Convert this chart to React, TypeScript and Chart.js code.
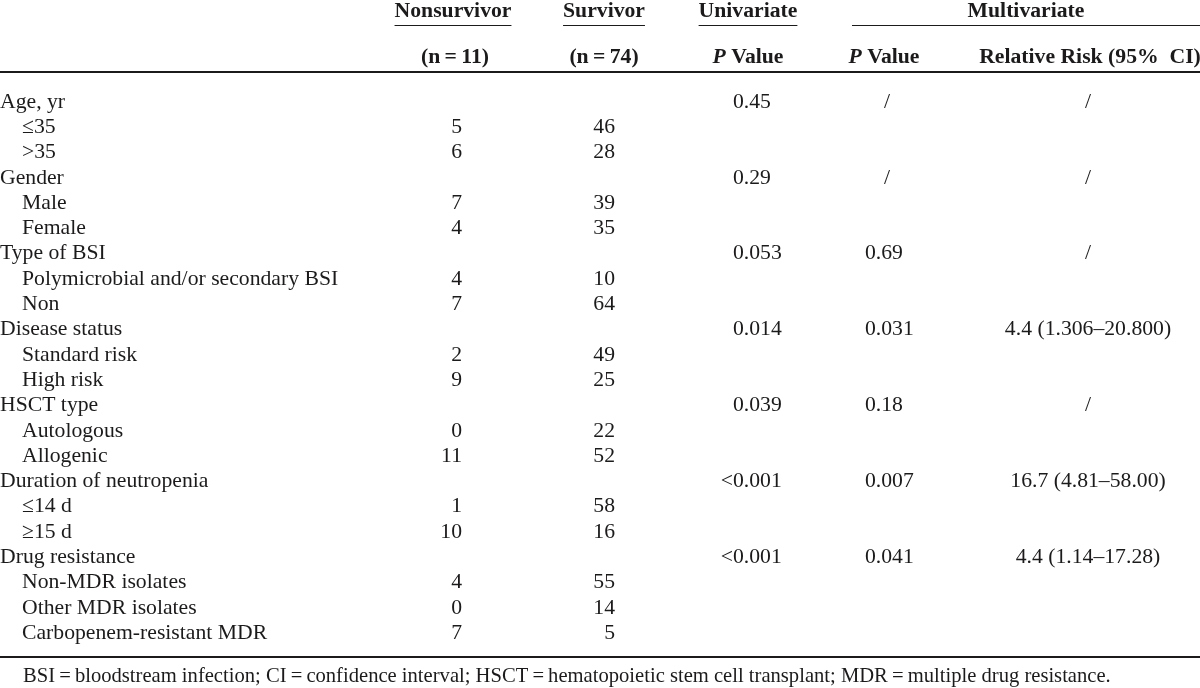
import { useEffect, useRef } from "react";
import { Chart, registerables } from "chart.js";

Chart.register(...registerables);

// ---------- data ----------
const rowLabels = [
  "Age, yr", "≤35", ">35",
  "Gender", "Male", "Female",
  "Type of BSI", "Polymicrobial and/or secondary BSI", "Non",
  "Disease status", "Standard risk", "High risk",
  "HSCT type", "Autologous", "Allogenic",
  "Duration of neutropenia", "≤14 d", "≥15 d",
  "Drug resistance", "Non-MDR isolates", "Other MDR isolates", "Carbopenem-resistant MDR",
];
const rowLevels = [0, 1, 1, 0, 1, 1, 0, 1, 1, 0, 1, 1, 0, 1, 1, 0, 1, 1, 0, 1, 1, 1];
const nonsurvivor = ["", "5", "6", "", "7", "4", "", "4", "7", "", "2", "9", "", "0", "11", "", "1", "10", "", "4", "0", "7"];
const survivor = ["", "46", "28", "", "39", "35", "", "10", "64", "", "49", "25", "", "22", "52", "", "58", "16", "", "55", "14", "5"];
const univariateP = ["0.45", "", "", "0.29", "", "", "0.053", "", "", "0.014", "", "", "0.039", "", "", "<0.001", "", "", "<0.001", "", "", ""];
const multivariateP = ["/", "", "", "/", "", "", "0.69", "", "", "0.031", "", "", "0.18", "", "", "0.007", "", "", "0.041", "", "", ""];
const relativeRisk = ["/", "", "", "/", "", "", "/", "", "", "4.4 (1.306–20.800)", "", "", "/", "", "", "16.7 (4.81–58.00)", "", "", "4.4 (1.14–17.28)", "", "", ""];

const groupHeaders = ["Nonsurvivor", "Survivor", "Univariate", "Multivariate"];
const subHeaders = ["(n\u2009=\u200911)", "(n\u2009=\u200974)", "P| Value", "P| Value", "Relative Risk (95%\u00a0 CI)"];
const footnote =
  "BSI\u2009=\u2009bloodstream infection; CI\u2009=\u2009confidence interval; HSCT\u2009=\u2009hematopoietic stem cell transplant; MDR\u2009=\u2009multiple drug resistance.";

// ---------- layout (pixels / row units) ----------
const W = 1200;
const H = 688;
const ROW0_PX = 102;
const ROW_H = 25.3;
const FONT = "'Liberation Serif', 'Times New Roman', serif";
const SIZE = 21.7;
const FOOT_SIZE = 20.6;

type ColCfg = { x: number; align: "left" | "right" | "center" | "decimal"; slashX?: number };
const cols: ColCfg[] = [
  { x: 462, align: "right" }, // nonsurvivor
  { x: 615, align: "right" }, // survivor
  { x: 733, align: "decimal" }, // univariate (start of leading 0)
  { x: 865, align: "decimal", slashX: 887 }, // multivariate P
  { x: 1088, align: "center" }, // relative risk
];
const columns = [nonsurvivor, survivor, univariateP, multivariateP, relativeRisk];

const groupHeaderX = [453, 604, 748, 1026];
const subHeaderX = [455, 604, 748, 884, 1090];
const pxToRow = (px: number) => (px - ROW0_PX) / ROW_H;

function drawDecimal(ctx: CanvasRenderingContext2D, text: string, startX: number, y: number) {
  const dotX = startX + ctx.measureText("0").width;
  const i = text.indexOf(".");
  if (i < 0) {
    ctx.textAlign = "center";
    ctx.fillText(text, dotX, y);
    return;
  }
  ctx.textAlign = "right";
  ctx.fillText(text.slice(0, i), dotX, y);
  ctx.textAlign = "left";
  ctx.fillText(text.slice(i), dotX, y);
}

function headerWidth(ctx: CanvasRenderingContext2D, text: string) {
  if (text.includes("|")) {
    const [a, b] = text.split("|");
    ctx.font = `italic bold ${SIZE}px ${FONT}`;
    const wa = ctx.measureText(a).width;
    ctx.font = `bold ${SIZE}px ${FONT}`;
    return wa + ctx.measureText(b).width;
  }
  ctx.font = `bold ${SIZE}px ${FONT}`;
  return ctx.measureText(text).width;
}

function drawHeader(ctx: CanvasRenderingContext2D, text: string, cx: number, y: number) {
  const w = headerWidth(ctx, text);
  let x = cx - w / 2;
  ctx.textAlign = "left";
  if (text.includes("|")) {
    const [a, b] = text.split("|");
    ctx.font = `italic bold ${SIZE}px ${FONT}`;
    ctx.fillText(a, x, y);
    x += ctx.measureText(a).width;
    ctx.font = `bold ${SIZE}px ${FONT}`;
    ctx.fillText(b, x, y);
  } else {
    ctx.font = `bold ${SIZE}px ${FONT}`;
    ctx.fillText(text, x, y);
  }
  return { left: cx - w / 2, right: cx + w / 2 };
}

const tablePlugin = {
  id: "tablePlugin",
  beforeDraw(chart: any) {
    const ctx = chart.ctx as CanvasRenderingContext2D;
    ctx.save();
    ctx.fillStyle = "#fff";
    ctx.fillRect(0, 0, chart.width, chart.height);
    ctx.restore();
  },
  afterDraw(chart: any) {
    const ctx = chart.ctx as CanvasRenderingContext2D;
    const xs = chart.scales.x;
    const ys = chart.scales.y;
    ctx.save();
    ctx.fillStyle = "#1c1a1b";
    ctx.strokeStyle = "#1c1a1b";
    ctx.textBaseline = "middle";

    // headers
    const yTop = ys.getPixelForValue(pxToRow(11));
    const yThin = ys.getPixelForValue(pxToRow(25.5));
    const ySub = ys.getPixelForValue(pxToRow(57));
    const yThick = ys.getPixelForValue(pxToRow(72));
    const yBottom = ys.getPixelForValue(pxToRow(657));
    const yFoot = ys.getPixelForValue(pxToRow(677));

    ctx.lineWidth = 1.2;
    groupHeaders.forEach((h, i) => {
      const cx = xs.getPixelForValue(groupHeaderX[i]);
      const ext = drawHeader(ctx, h, cx, yTop);
      let l = ext.left;
      let r = ext.right;
      if (i === 3) {
        l = xs.getPixelForValue(852);
        r = xs.getPixelForValue(1200);
      }
      ctx.beginPath();
      ctx.moveTo(l, yThin);
      ctx.lineTo(r, yThin);
      ctx.stroke();
    });
    subHeaders.forEach((h, i) => {
      drawHeader(ctx, h, xs.getPixelForValue(subHeaderX[i]), ySub);
    });

    ctx.lineWidth = 2;
    [yThick, yBottom].forEach((yy) => {
      ctx.beginPath();
      ctx.moveTo(xs.getPixelForValue(0), yy);
      ctx.lineTo(xs.getPixelForValue(1200), yy);
      ctx.stroke();
    });

    // row labels (dataset 0)
    ctx.font = `${SIZE}px ${FONT}`;
    const labelMeta = chart.getDatasetMeta(0);
    labelMeta.data.forEach((pt: any, j: number) => {
      const raw = chart.data.datasets[0].data[j];
      ctx.textAlign = "left";
      ctx.fillText(raw.label, pt.x, pt.y);
    });

    // cells (datasets 1..)
    for (let c = 0; c < columns.length; c++) {
      const meta = chart.getDatasetMeta(c + 1);
      const cfg = cols[c];
      meta.data.forEach((pt: any, j: number) => {
        const raw = chart.data.datasets[c + 1].data[j];
        const t: string = raw.label;
        if (t === "/" && cfg.slashX !== undefined) {
          ctx.textAlign = "center";
          ctx.fillText(t, xs.getPixelForValue(cfg.slashX), pt.y);
        } else if (cfg.align === "decimal") {
          drawDecimal(ctx, t, pt.x, pt.y);
        } else {
          ctx.textAlign = cfg.align as CanvasTextAlign;
          ctx.fillText(t, pt.x, pt.y);
        }
      });
    }

    // footnote
    ctx.font = `${FOOT_SIZE}px ${FONT}`;
    ctx.textAlign = "left";
    ctx.fillText(footnote, xs.getPixelForValue(23), yFoot);
    ctx.restore();
  },
};

export default function App() {
  const ref = useRef<HTMLCanvasElement | null>(null);
  useEffect(() => {
    if (!ref.current) return;
    const labelPoints = rowLabels.map((l, i) => ({ x: rowLevels[i] === 0 ? 0 : 22, y: i, label: l }));
    const cellSets = columns.map((arr, c) => ({
      label: `col${c}`,
      data: arr
        .map((v, i) => ({ x: cols[c].x, y: i, label: v }))
        .filter((p) => p.label !== ""),
      pointRadius: 0,
      pointHoverRadius: 0,
    }));
    const chart = new Chart(ref.current, {
      type: "scatter",
      data: {
        datasets: [{ label: "labels", data: labelPoints, pointRadius: 0, pointHoverRadius: 0 }, ...cellSets] as any,
      },
      options: {
        animation: false,
        responsive: false,
        maintainAspectRatio: false,
        devicePixelRatio: 1,
        layout: { padding: 0 },
        events: [],
        plugins: { legend: { display: false }, tooltip: { enabled: false }, title: { display: false } },
        scales: {
          x: { type: "linear", min: 0, max: W, display: false },
          y: { type: "linear", reverse: true, min: pxToRow(0), max: pxToRow(H), display: false },
        },
      },
      plugins: [tablePlugin],
    });
    return () => chart.destroy();
  }, []);
  return (
    <div style={{ position: "fixed", left: 0, top: 0, width: W, height: H, background: "#fff" }}>
      <canvas ref={ref} width={W} height={H} style={{ display: "block" }} />
    </div>
  );
}
